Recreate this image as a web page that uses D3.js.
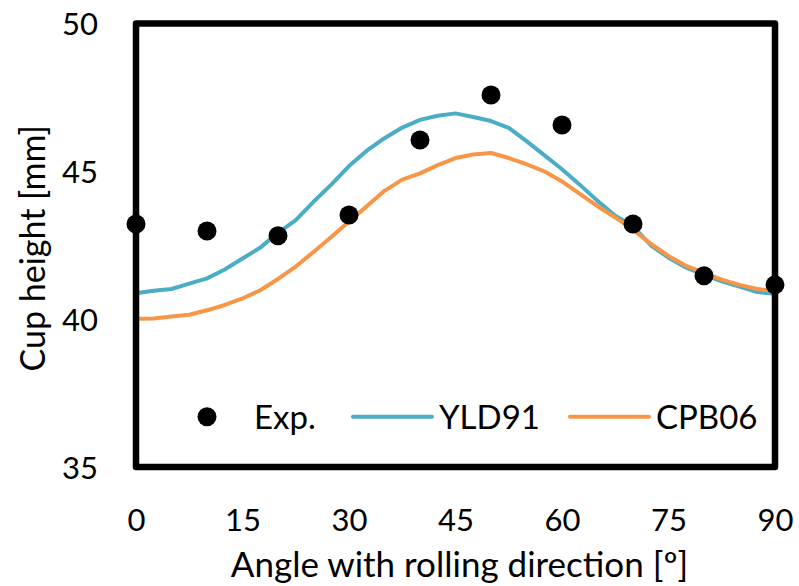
<!DOCTYPE html>
<html>
<head>
<meta charset="utf-8">
<script src="https://cdn.jsdelivr.net/npm/d3@7"></script>
<style>
  body { margin: 0; background: #fff; }
  text { font-family: Lato, "DejaVu Sans", sans-serif; fill: #000; }
</style>
</head>
<body>
<div class="chart-container"></div>
<script>
//Data
const expAngles = [0, 10, 20, 30, 40, 50, 60, 70, 80, 90];
const expHeights = [43.22, 42.98, 42.82, 43.52, 46.06, 47.58, 46.57, 43.22, 41.47, 41.16];

const simAngles = [0, 2.5, 5, 7.5, 10, 12.5, 15, 17.5, 20, 22.5, 25, 27.5, 30, 32.5, 35, 37.5, 40, 42.5, 45,
    47.5, 50, 52.5, 55, 57.5, 60, 62.5, 65, 67.5, 70, 72.5, 75, 77.5, 80, 82.5, 85, 87.5, 90];
const yld91 = [40.88, 40.96, 41.02, 41.2, 41.38, 41.68, 42.05, 42.42, 42.92, 43.35, 43.97, 44.55, 45.18, 45.7,
    46.12, 46.48, 46.74, 46.88, 46.96, 46.84, 46.7, 46.47, 46.02, 45.55, 45.07, 44.55, 44.0, 43.5, 43.15,
    42.5, 42.08, 41.74, 41.5, 41.28, 41.1, 40.92, 40.86];
const cpb06 = [40.01, 40.02, 40.09, 40.15, 40.3, 40.48, 40.7, 40.98, 41.36, 41.78, 42.27, 42.78, 43.3, 43.82,
    44.34, 44.72, 44.93, 45.21, 45.45, 45.57, 45.62, 45.45, 45.24, 45.0, 44.66, 44.24, 43.82, 43.44, 43.03,
    42.55, 42.14, 41.8, 41.57, 41.34, 41.16, 41.02, 40.95];

const xTicks = [0, 15, 30, 45, 60, 75, 90];
const yTicks = [35, 40, 45, 50];

const seriesNames = ['Exp.', 'YLD91', 'CPB06'];
const seriesColors = {YLD91: '#4BACC6', CPB06: '#F79646'};

function setCanvas(){
    const svg_width = 799;
    const svg_height = 586;
    const margin = {top: 23.5, right: 24, bottom: 119, left: 136};
    const chart_width = svg_width - margin.left - margin.right;
    const chart_height = svg_height - margin.top - margin.bottom;

    const svg = d3.select('.chart-container').append('svg')
        .attr('width', svg_width).attr('height', svg_height);
    const g = svg.append('g')
        .attr('transform', `translate(${margin.left},${margin.top})`);

    const xScale = d3.scaleLinear().domain([0, 90]).range([0, chart_width]);
    const yScale = d3.scaleLinear().domain([35, 50]).range([chart_height, 0]);

    //lines
    const line = d3.line()
        .x(d => xScale(d[0]))
        .y(d => yScale(d[1]));
    [['YLD91', yld91], ['CPB06', cpb06]].forEach(([name, vals]) => {
        g.append('path')
            .datum(simAngles.map((a, i) => [a, vals[i]]))
            .attr('d', line)
            .attr('fill', 'none')
            .attr('stroke', seriesColors[name])
            .attr('stroke-width', 4)
            .attr('stroke-linejoin', 'round');
    });

    //frame
    g.append('rect')
        .attr('x', 0).attr('y', 0)
        .attr('width', chart_width).attr('height', chart_height)
        .attr('fill', 'none').attr('stroke', '#000')
        .attr('stroke-width', 6.5).attr('stroke-linejoin', 'round');

    //experimental points
    g.selectAll('.exp')
        .data(expAngles.map((a, i) => [a, expHeights[i]]))
        .enter()
        .append('circle').attr('class', 'exp')
        .attr('cx', d => xScale(d[0])).attr('cy', d => yScale(d[1]))
        .attr('r', 9.5).attr('fill', '#000');

    //axes, no tick marks, just labels
    const xAxis = d3.axisBottom(xScale).tickValues(xTicks).tickSize(0).tickPadding(42);
    const xAxisDraw = g.append('g').attr('transform', `translate(0,${chart_height})`).call(xAxis);
    const yAxis = d3.axisLeft(yScale).tickValues(yTicks).tickSize(0).tickPadding(38);
    const yAxisDraw = g.append('g').call(yAxis);
    [xAxisDraw, yAxisDraw].forEach(a => {
        a.select('.domain').remove();
        a.selectAll('text').style('font-size', '31px').attr('font-family', null);
    });
    yAxisDraw.selectAll('text').attr('dy', '0.36em');

    //axis titles
    svg.append('text')
        .attr('x', margin.left + chart_width / 2 + 4).attr('y', 577)
        .attr('text-anchor', 'middle').style('font-size', '35px')
        .text('Angle with rolling direction [º]');
    svg.append('text')
        .attr('transform', `translate(45,${margin.top + chart_height / 2 + 3}) rotate(-90)`)
        .attr('text-anchor', 'middle').style('font-size', '34px')
        .text('Cup height [mm]');

    //legend
    const legend = g.append('g').attr('transform', `translate(0,${yScale(36.7)})`);
    const legendX = [71, 217, 434];
    seriesNames.forEach((name, i) => {
        const item = legend.append('g').attr('transform', `translate(${legendX[i]},0)`);
        if (name === 'Exp.') {
            item.append('circle').attr('cx', 0).attr('cy', 0).attr('r', 9.5).attr('fill', '#000');
            item.append('text').attr('x', 47).attr('y', 12).style('font-size', '33px').text(name);
        } else {
            item.append('line').attr('x1', 0).attr('x2', 79).attr('y1', 0).attr('y2', 0)
                .attr('stroke', seriesColors[name]).attr('stroke-width', 4)
                .attr('stroke-linecap', 'round');
            item.append('text').attr('x', 86).attr('y', 12).style('font-size', '33px').text(name);
        }
    });
}

setCanvas();
</script>
</body>
</html>
